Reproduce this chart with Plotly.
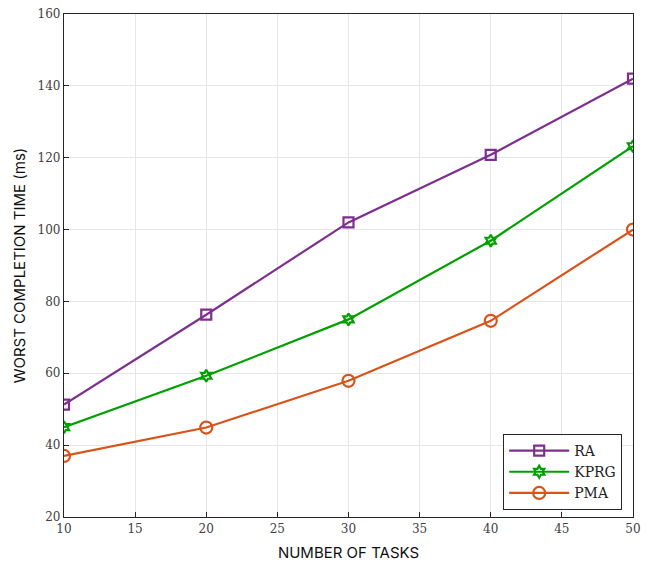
import plotly.graph_objects as go

tasks = [10, 20, 30, 40, 50]
ra = [51.3, 76.3, 102.0, 120.8, 142.0]
kprg = [45.0, 59.3, 75.0, 96.9, 123.2]
pma = [37.0, 44.9, 57.9, 74.6, 100.0]

x_ticks = [10, 15, 20, 25, 30, 35, 40, 45, 50]
y_ticks = [20, 40, 60, 80, 100, 120, 140, 160]

fig = go.Figure()
series = [
    ("RA", ra, "#7E2F8E", "square-open", 10),
    ("KPRG", kprg, "#00A000", "hexagram-open", 9),
    ("PMA", pma, "#D95319", "circle-open", 12),
]
for name, vals, color, sym, size in series:
    fig.add_trace(go.Scatter(
        x=tasks, y=vals, name=name, mode="lines+markers",
        line=dict(color=color, width=2.2),
        marker=dict(symbol=sym, size=size, color=color, line=dict(width=2.2, color=color)),
    ))

axis_common = dict(
    showline=True, linecolor="#262626", linewidth=1.2, mirror=True,
    ticks="inside", ticklen=5, tickcolor="#262626",
    showgrid=True, gridcolor="#e6e6e6", gridwidth=1, zeroline=False,
    tickfont=dict(family="DejaVu Serif", size=12, color="#404040"),
    automargin=False,
)
fig.update_xaxes(range=[10, 50], tickvals=x_ticks,
                 title=dict(text="NUMBER OF TASKS", font=dict(family="Inter", size=15, color="#111111"), standoff=12),
                 **axis_common)
fig.update_yaxes(range=[20, 160], tickvals=y_ticks,
                 title=dict(text="WORST COMPLETION TIME (ms)", font=dict(family="Inter", size=15, color="#111111"), standoff=8),
                 **axis_common)

fig.update_layout(
    width=655, height=564,
    margin=dict(l=64, r=22, t=14, b=47),
    plot_bgcolor="white", paper_bgcolor="white",
    showlegend=True,
    legend=dict(x=0.981, y=0.014, xanchor="right", yanchor="bottom",
                bgcolor="white", bordercolor="#262626", borderwidth=1,
                font=dict(family="DejaVu Serif", size=14, color="#222222"),
                itemwidth=60, tracegroupgap=0),
)
fig.write_html("out.html", config={"displayModeBar": False},
               post_script="document.body.style.margin='0';document.body.style.overflow='hidden';")
